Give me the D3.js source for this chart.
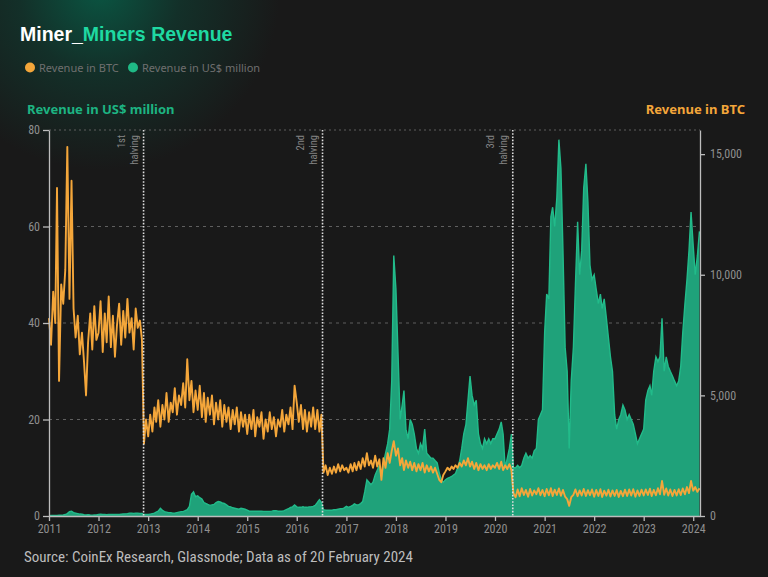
<!DOCTYPE html>
<html><head><meta charset="utf-8">
<script src="https://cdn.jsdelivr.net/npm/d3@7"></script>
<style>
html,body{margin:0;padding:0;background:#191919;}
svg{display:block;}
</style></head><body>
<svg id="chart" width="768" height="577"></svg>
<script>
// Semi-monthly readings (1st and 16th of each month), Jan 2011 .. Feb 2024
const btcRevenue = [
 8200,7100,9300,8000,13600,5600,9600,8800,10200,15300,9000,13900,8600,7400,8300,6700,7600,6400,5000,7200,8400,6900,8700,7300,
 7600,8900,6800,8400,7200,9100,7000,8300,6600,7900,8800,7100,8500,7400,9000,7600,8200,6900,8600,7800,8100,7300,3000,4000,
 3300,4200,3500,4500,3900,4800,3700,4600,4000,5100,3900,4700,4300,5300,4200,5000,4600,5500,4500,6500,4800,5600,4300,5200,
 4400,5400,4100,5100,3900,4900,4200,5000,3800,4700,4000,4800,3700,4600,3900,4500,3600,4400,3800,4500,3500,4300,3700,4200,
 3400,4200,3600,4400,3300,4100,3700,4300,3200,4000,3500,4300,3600,4100,3300,4000,3700,4400,3500,4200,3800,4500,3600,5400,
 4700,3900,4600,3600,4400,3500,4300,3700,4500,3600,4400,3500,4200,1800,2100,1700,2000,1750,2050,1800,2150,1850,2100,1900,
 2000,1800,2150,1850,2200,1900,2250,1950,2400,2050,2600,2100,2300,2000,2500,2050,2350,1500,2400,2000,2600,2200,2700,3100,
 2500,2800,2100,2400,1900,2300,2000,2250,1900,2200,1850,2150,1900,2200,1800,2100,1850,2050,1800,2000,1750,1500,1400,1700,
 1850,2000,1900,2050,1950,2100,2000,2200,2050,2300,2100,2400,2050,2250,1950,2200,1900,2150,1950,2100,1900,2150,1950,2100,
 2000,2200,1950,2250,1900,2100,1950,2150,1900,950,780,1100,820,1150,870,1080,800,1120,850,1060,900,1150,860,1080,
 820,1120,860,1150,830,1090,870,1140,840,1080,800,700,420,780,880,1100,820,1060,850,1120,830,1070,860,1100,
 800,1080,830,1110,790,1050,840,1090,810,1060,830,1080,790,1040,820,1090,830,1100,850,1110,800,1060,830,1090,
 850,1100,870,1130,830,1080,860,1150,900,1450,880,1140,850,1100,830,1080,850,1110,870,1140,900,1200,950,1450,
 1050,1200,1000,1150
];
const usdRevenue = [
 0.08,0.1,0.1,0.12,0.12,0.15,0.15,0.2,0.3,0.5,0.9,1.0,0.7,0.6,0.5,0.4,0.35,0.25,0.2,0.25,0.2,0.18,0.2,0.2,
 0.3,0.35,0.3,0.3,0.25,0.3,0.3,0.3,0.3,0.3,0.3,0.35,0.4,0.45,0.5,0.6,0.6,0.55,0.6,0.6,0.55,0.55,0.3,0.3,
 0.3,0.4,0.5,0.6,0.8,1.0,1.6,1.2,0.9,0.8,0.7,0.7,0.6,0.6,0.7,0.8,0.9,0.9,1.1,1.3,2.0,4.5,5.0,4.0,
 4.2,3.8,3.5,2.8,2.6,2.4,2.2,2.3,2.4,2.8,3.0,2.9,2.7,2.6,2.3,2.0,1.9,1.7,1.6,1.5,1.4,1.6,1.5,1.4,
 1.2,1.0,1.0,1.0,1.0,1.0,1.0,1.0,0.95,0.95,0.95,0.95,1.0,1.1,1.1,1.0,1.0,1.0,1.1,1.3,1.5,1.8,1.9,2.3,
 1.9,1.8,1.8,1.9,1.8,1.8,1.9,1.9,2.0,2.2,2.8,3.4,2.8,1.3,1.2,1.2,1.2,1.2,1.3,1.3,1.4,1.5,1.5,1.7,
 2.0,1.8,2.0,2.2,2.5,2.3,2.3,2.6,3.0,5.0,7.5,7.0,6.5,7.0,8.5,9.5,10.5,8.0,11.0,13.0,15.0,18.0,28.0,54.0,
 47,34,20,23,26,18,16,20,19,17,14,13,15,14,18,13,12.5,12,12,11.5,11,9,7.5,7.0,
 7.5,7.8,8.0,8.2,8.5,8.8,10,11.5,14,17,19,24,29,25,23,24,17,15,14,16,15,16,15,16,
 16,17,18,19.5,17,10,12,14,17,10,10,10.5,10,10.5,12,13,12,12.5,12,13.5,14,20,21,22,
 38,46,45,62,64,60,66,78,72,55,35,30,14,28,35,48,61,50,55,68,73,65,52,49,
 50,47,44,46,43,45,41,37,33,30,21,18,20,21,23,22,20,21,20,19,17,15,16,17,
 18,24,26,27,25,30,33,32,33,41,30,33,31,30,29,28,27,28,31,38,44,49,55,63,
 56,50,54,59
];
const yearTicks = [2011,2012,2013,2014,2015,2016,2017,2018,2019,2020,2021,2022,2023,2024];
const usdTicks = [0,20,40,60,80];
const btcTicks = [0,5000,10000,15000];
const halvingDates = ["2012-11-28","2016-07-09","2020-05-11"];
const halvingLabels = ["1st","2nd","3rd"];
const seriesNames = ["Revenue in BTC","Revenue in US$ million"];

const ORANGE = "#f4a63a", GREEN = "#1fa27a", TEAL = "#1fd9a2", AXTEAL = "#1db482";
const narrow = "'Liberation Sans Narrow','Roboto Condensed','Liberation Sans',sans-serif";

const svg = d3.select("#chart");
const defs = svg.append("defs");
const rg = defs.append("radialGradient").attr("id","glow")
  .attr("cx",100).attr("cy",-10).attr("r",180).attr("gradientUnits","userSpaceOnUse");
rg.append("stop").attr("offset","0%").attr("stop-color","#0a5542");
rg.append("stop").attr("offset","45%").attr("stop-color","#133029");
rg.append("stop").attr("offset","100%").attr("stop-color","#191919");
svg.append("rect").attr("width",768).attr("height",577).attr("fill","#191919");
svg.append("rect").attr("width",768).attr("height",577).attr("fill","url(#glow)");

const dates = btcRevenue.map((_, i) => new Date(2011 + Math.floor(i / 24), Math.floor(i / 2) % 12, i % 2 ? 16 : 1));

const x = d3.scaleTime().domain([new Date(2011,0,1), new Date(2024,1,20)]).range([49,700]);
const yL = d3.scaleLinear().domain([0,80]).range([516,130]);
const yR = d3.scaleLinear().domain([0,16000]).range([516,130]);

// title
const t = svg.append("text").attr("x",20).attr("y",41)
  .attr("font-family","'Liberation Sans',Arial,sans-serif").attr("font-weight","bold").attr("font-size",19.5);
t.append("tspan").attr("fill","#ffffff").text("Miner_");
t.append("tspan").attr("fill",TEAL).text("Miners Revenue");

// legend
const leg = svg.append("g");
[[30, ORANGE, seriesNames[0]],[133, "#1fb985", seriesNames[1]]].forEach(([lx,c,txt]) => {
  leg.append("circle").attr("cx",lx).attr("cy",67.5).attr("r",5).attr("fill",c);
  leg.append("text").attr("x",lx+9).attr("y",71.5).attr("fill","#6f6f6f")
    .attr("font-family","'Noto Sans',sans-serif").attr("font-size",11).text(txt);
});

// axis titles
svg.append("text").attr("x",27).attr("y",114).attr("fill",AXTEAL)
  .attr("font-family","'Noto Sans',sans-serif").attr("font-weight","bold").attr("font-size",13)
  .text("Revenue in US$ million");
svg.append("text").attr("x",745).attr("y",114).attr("text-anchor","end").attr("fill",ORANGE)
  .attr("font-family","'Noto Sans',sans-serif").attr("font-weight","bold").attr("font-size",13)
  .text("Revenue in BTC");

// gridlines
svg.append("g").selectAll("line").data(usdTicks.filter(d => d > 0)).join("line")
  .attr("x1",49).attr("x2",700).attr("y1",d => yL(d)).attr("y2",d => yL(d))
  .attr("stroke","#5f5f5f").attr("stroke-width",1.2)
  .attr("stroke-dasharray",d => d === 80 ? "2,3" : "3,4");

// green area
const area = d3.area().x((d,i) => x(dates[i])).y0(yL(0)).y1(d => yL(d));
svg.append("path").datum(usdRevenue).attr("d",area).attr("fill",GREEN);
const topLine = d3.line().x((d,i) => x(dates[i])).y(d => yL(d));
svg.append("path").datum(usdRevenue).attr("d",topLine).attr("fill","none")
  .attr("stroke","#22bb8a").attr("stroke-width",1.4);

// orange line
const btcLine = d3.line().x((d,i) => x(dates[i])).y(d => yR(d));
svg.append("path").datum(btcRevenue).attr("d",btcLine).attr("fill","none")
  .attr("stroke",ORANGE).attr("stroke-width",1.9).attr("stroke-linejoin","round");

// halving lines
const hg = svg.append("g");
halvingDates.forEach((ds,i) => {
  const hx = x(d3.timeParse("%Y-%m-%d")(ds));
  hg.append("line").attr("x1",hx).attr("x2",hx).attr("y1",130).attr("y2",516)
    .attr("stroke","#dddddd").attr("stroke-width",1.6).attr("stroke-dasharray","1.6,1.6");
  [[halvingLabels[i], hx-19],["halving", hx-6]].forEach(([s,bx]) => {
    hg.append("text").attr("transform",`translate(${bx},135) rotate(-90)`)
      .attr("text-anchor","end").attr("fill","#858585").attr("font-size",10.5)
      .attr("font-family",narrow).text(s);
  });
});

// axes
function styleAxis(g){
  g.select(".domain").attr("stroke","#bdbdbd").attr("stroke-width",1.3);
  g.selectAll(".tick line").attr("stroke","#bdbdbd").attr("stroke-width",1.3);
  g.selectAll(".tick text").attr("fill","#8f8f8f").attr("font-family",narrow).attr("font-size",12);
}
svg.append("g").attr("transform","translate(49,0)")
  .call(d3.axisLeft(yL).tickValues(usdTicks).tickSize(6).tickSizeOuter(0).tickPadding(3))
  .call(styleAxis);
svg.append("g").attr("transform","translate(700,0)")
  .call(d3.axisRight(yR).tickValues(btcTicks).tickFormat(d3.format(",")).tickSize(5).tickSizeOuter(0).tickPadding(5))
  .call(styleAxis);
svg.append("g").attr("transform","translate(0,516)")
  .call(d3.axisBottom(x).tickValues(yearTicks.map(y => new Date(y,0,1))).tickFormat(d3.timeFormat("%Y")).tickSize(5).tickSizeOuter(0).tickPadding(3))
  .call(styleAxis);

// source
svg.append("text").attr("x",24).attr("y",562).attr("fill","#bdbdbd")
  .attr("font-family",narrow).attr("font-size",15)
  .text("Source: CoinEx Research, Glassnode; Data as of 20 February 2024");
</script>
</body></html>
